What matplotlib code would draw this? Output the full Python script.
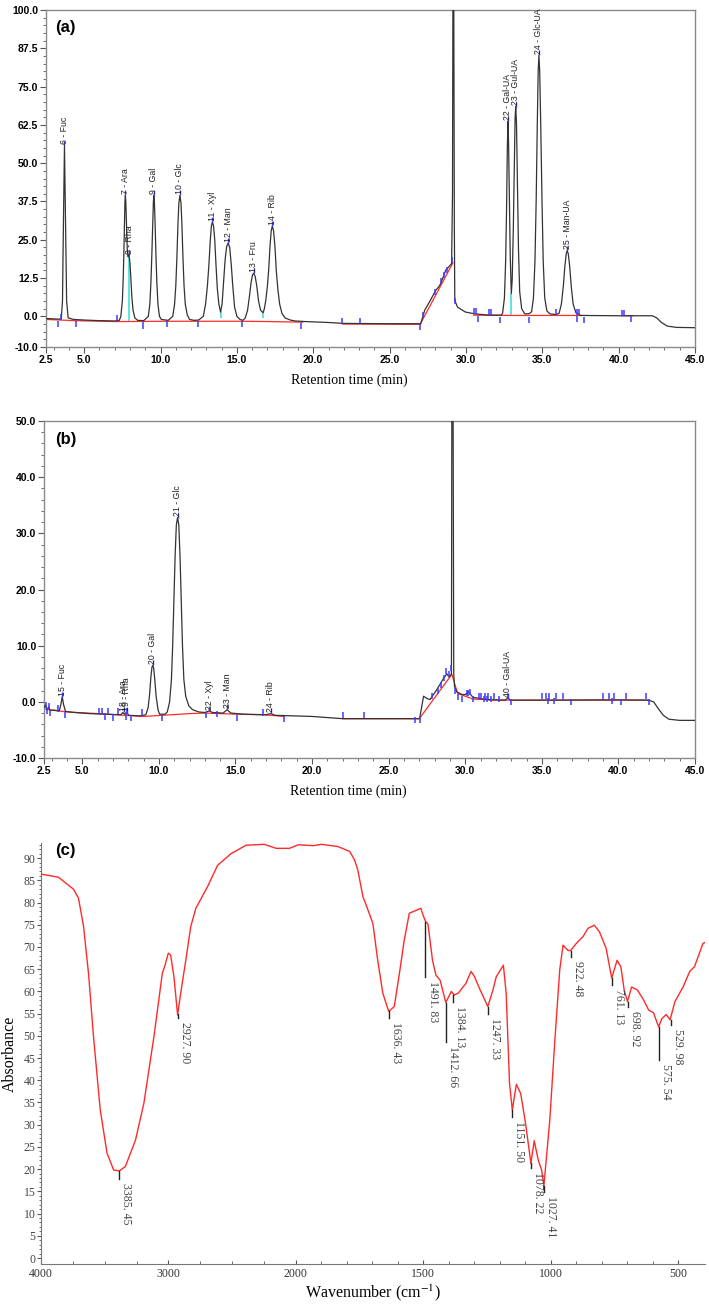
import numpy as np
import matplotlib
matplotlib.use("Agg")
import matplotlib.pyplot as plt
from matplotlib.ticker import FixedLocator, FormatStrFormatter

plt.rcParams['font.family'] = ['Liberation Sans', 'DejaVu Sans']
plt.rcParams['mathtext.fontset'] = 'stix'

# ---------------- data: panel (a), monosaccharide standards ----------------
a_time = [2.5, 3.3, 3.5, 3.58, 3.64, 3.71, 3.78, 3.85, 3.95, 4.3, 5.0, 6.0, 7.0, 7.3,
          7.4, 7.5, 7.56, 7.6, 7.64, 7.67, 7.7, 7.73, 7.77, 7.82, 7.87, 7.93, 7.99, 8.05,
          8.12, 8.2, 8.32, 8.5, 8.9,
          9.2, 9.3, 9.37, 9.43, 9.49, 9.53, 9.56, 9.6, 9.64, 9.7, 9.76, 9.83, 9.93, 10.05,
          10.5, 10.8, 10.92, 11.0, 11.07, 11.14, 11.2, 11.27, 11.34, 11.4, 11.47, 11.54,
          11.62, 11.75, 11.9, 12.2, 12.5,
          12.8, 12.95, 13.07, 13.17, 13.26, 13.33, 13.4, 13.47, 13.55, 13.63, 13.72, 13.82,
          13.93, 14.03, 14.13, 14.23, 14.33, 14.43, 14.53, 14.63, 14.73, 14.85, 15.0, 15.2,
          15.4, 15.55, 15.7, 15.82, 15.93, 16.02, 16.1, 16.2, 16.3, 16.42, 16.55, 16.72,
          16.8, 16.9, 17.0, 17.08, 17.17, 17.25, 17.32, 17.4, 17.49, 17.58, 17.68, 17.8,
          17.95, 18.15, 18.5, 18.8, 19.5, 21.0, 22.0, 25.0, 26.9,
          27.04, 27.3, 27.7, 28.02, 28.2, 28.35, 28.67, 29.06, 29.12, 29.15, 29.2, 29.24,
          29.27, 29.45, 29.97, 30.6, 31.5, 32.3,
          32.4, 32.52, 32.6, 32.66, 32.71, 32.75, 32.79, 32.84, 32.9, 32.97, 33.03, 33.1,
          33.17, 33.22, 33.26, 33.31, 33.37, 33.44, 33.52, 33.65, 33.85, 34.15,
          34.3, 34.42, 34.52, 34.6, 34.67, 34.73, 34.78, 34.83, 34.9, 34.98, 35.06, 35.16,
          35.3, 35.5, 35.9, 36.1, 36.25, 36.38, 36.48, 36.57, 36.63, 36.7, 36.8, 36.9,
          37.02, 37.2, 37.5, 40.0, 42.2, 42.5, 42.8, 43.2, 43.8, 45.0]
a_signal = [-0.7, -0.9, -0.8, 5, 30, 55.8, 30, 5, -0.5, -1.0, -1.2, -1.4, -1.5, -1.3,
            0, 5, 13, 21, 31, 37.5, 39.5, 37, 30, 22, 19.5, 20, 18, 13,
            6.5, 2, -0.5, -1.3, -1.4,
            0, 4, 11, 20, 31, 37, 39.5, 37, 31, 20, 11, 4, 0, -1.0,
            -1.3, 0, 4, 10, 19, 30, 37, 39.5, 37, 30, 19, 10,
            4, 0.5, -1.0, -1.3, -1.2,
            0, 4, 10, 17, 25, 29.5, 30.8, 29.5, 25, 17, 9, 4,
            1.4, 4, 11, 18.5, 22.8, 23.9, 22.5, 17, 10, 3, 0, -1.0,
            -1.3, -0.5, 2, 6.5, 11, 13.5, 14.1, 13, 10, 5, 2, 1.2,
            2.5, 5.5, 10, 15, 23, 28, 29.4, 28, 23, 15, 9, 4,
            1, -0.5, -1.2, -1.5, -1.7, -2.0, -2.3, -2.4, -2.4,
            -2.4, 2, 5.5, 8.5, 9.5, 10.7, 15, 17.2, 40, 110, 110, 30,
            5.2, 3, 1.4, 0.8, 0.4, 0.4,
            1, 6, 18, 35, 55, 63.7, 57, 40, 20, 7.4, 12, 28,
            50, 65, 68.5, 63, 44, 22, 8, 2.5, 0.8, 0.9,
            1.5, 6, 18, 38, 62, 80, 85.2, 80, 62, 38, 18, 6,
            1.8, 0.8, 0.6, 1, 4, 10, 16.5, 20.5, 21.5, 20.5, 16, 9.5,
            4, 1.2, 0.3, 0.2, 0.2, -0.5, -2.0, -3.2, -3.6, -3.7]
a_base_time = [2.5, 4.4, 7.1, 10.4, 15.4, 17.2, 19.3, None, 21.9, 27.0, 29.15, None,
               30.5, 33.0, 37.6, None, 40.2, 40.9]
a_base_val = [-1.0, -1.4, -1.7, -1.6, -1.6, -1.7, -1.9, None, -2.5, -2.6, 17.5, None,
              0.4, 0.3, 0.3, None, 0.2, 0.2]
a_peak_names = ['6 - Fuc', '7 - Ara', '8 - Rha', '9 - Gal', '10 - Glc', '11 - Xyl',
                '12 - Man', '13 - Fru', '14 - Rib', '22 - Gal-UA', '23 - Gul-UA',
                '24 - Glc-UA', '25 - Man-UA']
a_peak_time = [3.71, 7.7, 7.95, 9.56, 11.27, 13.4, 14.43, 16.1, 17.32, 32.75, 33.26,
               34.78, 36.63]
a_peak_height = [55.8, 39.5, 20.0, 39.5, 39.5, 30.8, 23.9, 14.1, 29.4, 63.7, 68.5,
                 85.2, 21.5]
a_marks_time = [3.3, 3.45, 4.47, 7.14, 8.88, 10.4, 12.43, 15.34, 19.17, 21.9, 23.05,
                27.0, 27.2, 27.97, 28.35, 28.55, 28.75, 29.1, 29.3, 30.52, 30.65, 30.8,
                31.5, 31.65, 32.21, 34.13, 35.9, 37.25, 37.4, 37.3, 37.7, 40.19, 40.35,
                40.84]
a_marks_val = [-2.5, -0.3, -2.5, -0.5, -3.0, -2.5, -2.5, -2.5, -3.2, -1.5, -1.5,
               -3.5, 0.5, 8.0, 11.5, 13.5, 15.0, 18.5, 5.0, 1.8, 1.8, -1.0,
               1.5, 1.5, -1.2, -1.2, 1.3, 1.3, 1.3, -0.8, -1.3, 1.2, 1.2, -1.0]
a_cyan_time = [7.93, 13.93, 16.72, 32.97]
a_cyan_low = [-1.6, -0.4, -0.4, 0.3]
a_cyan_high = [19.5, 1.6, 1.4, 7.4]

# ---------------- data: panel (b), polysaccharide sample ----------------
b_time = [2.5, 2.6, 2.7, 2.8, 2.9, 3.2, 3.5, 3.6, 3.69, 3.78, 3.9, 4.5, 5.5, 6.5, 7.5,
          7.65, 7.75, 7.88, 8.05, 8.8, 9.15, 9.3, 9.4, 9.48, 9.55, 9.6, 9.66, 9.73, 9.82,
          9.95, 10.05, 10.4, 10.55, 10.7, 10.82, 10.9, 10.98, 11.06, 11.14, 11.22, 11.3,
          11.38, 11.46, 11.54, 11.63, 11.75, 11.95, 12.2, 12.6, 13.0,
          13.3, 13.5, 14.2, 14.45, 14.7, 15.5, 17.0, 17.3, 17.6, 20.0, 22.0, 26.9, 27.02,
          27.15, 27.28, 27.5, 27.7, 28.15, 28.59, 28.8, 28.95, 29.1, 29.13, 29.2, 29.25,
          29.3, 29.45, 29.77, 30.0, 30.21, 30.5, 31.4, 32.6, 32.78, 32.95, 35.0, 40.0,
          41.95, 42.3, 42.6, 42.93, 43.3, 44.0, 45.0]
b_signal = [-1.0, -0.6, -1.4, -0.9, -1.5, -1.5, -1.6, -0.5, 0.9, -0.5, -1.7, -1.9, -2.1,
            -2.2, -2.3, -1.9, -2.2, -1.9, -2.4, -2.5, -2.3, -1.0, 1.5, 4.5, 6.2, 6.5,
            6.0, 4.0, 1.0, -1.5, -2.2, -2.2, -1.8, 0, 4, 10, 18, 26, 31.5, 32.8, 31.5,
            26, 18, 10, 4, 1, -0.7, -1.4, -1.8, -1.9,
            -1.6, -1.9, -2.0, -1.4, -2.0, -2.2, -2.3, -2.1, -2.4, -2.6, -3.0, -3.0, -3.0,
            -1.0, 1.0, 0.6, 0.4, 2.2, 4.2, 5.0, 4.4, 5.0, 60, 60, 5.0,
            2.7, 1.8, 1.3, 1.3, 1.8, 0.8, 0.4, 0.3, 0.7, 0.3, 0.3, 0.35,
            0.3, 0.0, -1.2, -2.4, -3.1, -3.3, -3.3]
b_base_time = [2.5, 4.0, 6.0, 9.0, 10.2, 12.0, 13.0, 15.1, 16.8, 18.2, None,
               22.0, 27.0, 29.13, 29.5, 30.5, 32.0, 42.0]
b_base_val = [-1.3, -1.8, -2.1, -2.6, -2.4, -2.1, -2.0, -2.2, -2.3, -2.6, None,
              -3.0, -3.0, 4.9, 1.5, 0.5, 0.3, 0.3]
b_peak_names = ['15 - Fuc', '18 - Ara', '19 - Rha', '20 - Gal', '21 - Glc', '22 - Xyl',
                '23 - Man', '24 - Rib', '40 - Gal-UA']
b_peak_time = [3.69, 7.7, 7.9, 9.6, 11.22, 13.3, 14.45, 17.3, 32.78]
b_peak_height = [0.9, -1.8, -1.9, 6.5, 32.8, -1.6, -1.3, -2.0, 0.7]
b_marks_time = [2.6, 2.7, 2.8, 2.9, 3.4, 3.9, 6.1, 6.3, 6.5, 6.7, 7.0, 7.35, 7.85, 7.95,
                8.15, 8.9, 10.2, 13.05, 13.8, 15.1, 16.8, 18.2, 22.0, 23.4, 26.7, 27.05,
                27.8, 28.2, 28.4, 28.6, 28.75, 28.95, 29.1, 29.35, 29.5, 29.8, 30.1, 30.2,
                30.3, 30.5, 30.9, 31.05, 31.2, 31.3, 31.4, 31.5, 31.7, 31.9, 32.2, 33.0,
                35.0, 35.3, 35.4, 35.5, 35.8, 35.9, 36.4, 36.9, 39.0, 39.4, 39.6, 39.7,
                40.2, 40.5, 41.8, 42.0]
b_marks_val = [-0.6, -1.7, -0.8, -2.0, -1.2, -2.4, -1.6, -1.6, -2.6, -1.6, -2.8, -1.7,
               -2.6, -1.7, -2.9, -1.9, -2.9, -2.3, -2.1, -2.9, -1.9, -3.0, -2.4, -2.3,
               -3.2, -3.2, 1.0, 2.0, 3.0, 4.2, 5.5, 5.0, 6.0, 2.0, 0.8, 0.5, 1.5, 1.5,
               1.8, 0.5, 1.0, 1.0, 0.5, 1.0, 0.5, 1.0, 0.5, 1.0, 0.5, 0.0,
               1.0, 1.0, 0.2, 1.0, 0.2, 1.0, 1.0, 0.0, 1.0, 1.0, 0.2, 1.0,
               0.0, 1.0, 1.0, 0.0]

# ---------------- data: panel (c), FT-IR spectrum ----------------
ir_wavenumber = [4000, 3863, 3745, 3706, 3666, 3627, 3588, 3535, 3482, 3430, 3385, 3338,
                 3259, 3193, 3114, 3048, 3030, 3001, 2983, 2957, 2928, 2904, 2864, 2825,
                 2785, 2693, 2614, 2509, 2391, 2247, 2155, 2050, 1991, 1932, 1900, 1835,
                 1789, 1770, 1757, 1737, 1724, 1698, 1679, 1659, 1636, 1614, 1594, 1575,
                 1555, 1530, 1510, 1500, 1491, 1482, 1464, 1451, 1434, 1412, 1390, 1379,
                 1363, 1333, 1313, 1300, 1280, 1247, 1227, 1214, 1186, 1175, 1162, 1151,
                 1135, 1118, 1099, 1078, 1065, 1049, 1036, 1027, 1004, 984, 965, 952, 932,
                 922, 900, 874, 854, 829, 809, 783, 761, 740, 725, 712, 699, 683, 660, 635,
                 616, 597, 577, 564, 547, 532, 513, 481, 455, 436, 403, 395]
ir_absorbance = [86.4, 85.7, 83.0, 81.0, 74.6, 64.0, 49.8, 33.3, 23.6, 19.8, 19.6, 20.6,
                 26.5, 34.8, 49.8, 64.1, 65.6, 68.6, 68.2, 63.3, 54.7, 59.6, 67.0, 74.6,
                 78.7, 83.6, 88.4, 91.0, 92.9, 93.1, 92.2, 92.2, 93.0, 92.8, 93.1, 92.6,
                 91.5, 89.6, 87.3, 81.3, 79.4, 75.3, 67.0, 59.6, 55.5, 56.6, 64.0, 71.5,
                 77.6, 78.2, 78.7, 77.0, 75.7, 75.2, 67.0, 63.7, 62.5, 57.5, 60.0, 59.2,
                 59.6, 61.8, 64.5, 63.4, 60.7, 56.6, 60.3, 63.3, 65.9, 59.6, 39.4, 33.3,
                 39.1, 37.0, 30.3, 21.3, 26.4, 22.0, 19.8, 16.3, 31.0, 49.0, 64.8, 70.4,
                 69.2, 69.2, 70.8, 72.3, 74.2, 74.9, 73.4, 69.7, 63.0, 67.0, 65.5, 60.3,
                 57.7, 61.0, 60.3, 58.0, 55.8, 55.2, 52.0, 53.9, 54.8, 53.6, 57.7, 61.0,
                 64.5, 65.6, 70.8, 71.0]
ir_peaks = [3385.45, 2927.90, 1636.43, 1491.83, 1412.66, 1384.13, 1247.33, 1151.50,
            1078.22, 1027.41, 922.48, 761.13, 698.92, 575.54, 529.98]
ir_peak_abs = [19.6, 55.0, 55.5, 75.7, 57.5, 59.2, 56.6, 33.3, 21.3, 16.3, 69.2, 63.0,
               57.7, 52.0, 53.6]

# ---------------- drawing ----------------
fig = plt.figure(figsize=(7.09, 13.06), dpi=100)

TRACE = '#333333'
RED = '#ff2a2a'
BLUE = '#3c3cff'
CYAN = '#30dede'
FRAME = '#8a8a8a'


def to_arr(vals):
    return np.array([np.nan if v is None else v for v in vals], dtype=float)


def chromatogram(ax, t, s, bt, bv, names, pt, ph, mt, mv, ylim, yticks, yminor, mark_h):
    ax.plot(to_arr(bt), to_arr(bv), color=RED, lw=0.9, zorder=2)
    ax.plot(t, s, color=TRACE, lw=0.9, zorder=3)
    ax.vlines(mt, np.array(mv) - mark_h, np.array(mv) + mark_h, color=BLUE, lw=1.1, zorder=4)
    ax.vlines(pt, np.array(ph), np.array(ph) + mark_h * 1.6, color=BLUE, lw=1.0, zorder=4)
    for name, x, y in zip(names, pt, ph):
        ax.text(x, y + mark_h * 0.4, name, rotation=90, ha='center', va='bottom',
                fontsize=6.3, color='#222222', zorder=5)
    ax.set_xlim(2.5, 45)
    ax.set_ylim(*ylim)
    ax.xaxis.set_major_locator(FixedLocator([2.5, 5, 10, 15, 20, 25, 30, 35, 40, 45]))
    ax.xaxis.set_minor_locator(FixedLocator(np.arange(3, 45, 1.0)))
    ax.yaxis.set_major_locator(FixedLocator(yticks))
    ax.yaxis.set_minor_locator(FixedLocator(yminor))
    ax.xaxis.set_major_formatter(FormatStrFormatter('%.1f'))
    ax.yaxis.set_major_formatter(FormatStrFormatter('%.1f'))
    ax.tick_params(which='major', direction='out', length=4, width=0.8, color='#555555',
                   labelsize=7.5, pad=1.5)
    ax.tick_params(which='minor', direction='out', length=2, width=0.6, color='#555555')
    for lab in ax.get_xticklabels() + ax.get_yticklabels():
        lab.set_fontweight('bold')
    for sp in ax.spines.values():
        sp.set_color(FRAME)
        sp.set_linewidth(1.0)
    ax.text(0.468, -0.1, 'Retention time (min)', transform=ax.transAxes, ha='center',
            va='center', fontsize=10, family=['Liberation Serif', 'DejaVu Serif'])


# panel (a)
ax_a = fig.add_axes([46 / 709, 1 - 347 / 1306, 649 / 709, 337 / 1306])
chromatogram(ax_a, a_time, a_signal, a_base_time, a_base_val, a_peak_names, a_peak_time,
             a_peak_height, a_marks_time, a_marks_val, (-10, 100),
             [-10, 0, 12.5, 25, 37.5, 50, 62.5, 75, 87.5, 100],
             np.arange(-10, 100.1, 2.5), 1.0)
ax_a.vlines(a_cyan_time, a_cyan_low, a_cyan_high, color=CYAN, lw=1.1, zorder=2.5)
ax_a.text(0.014, 0.97, '(a)', transform=ax_a.transAxes, ha='left', va='top',
          fontsize=12, fontweight='bold')

# panel (b)
ax_b = fig.add_axes([44 / 709, 1 - 758 / 1306, 651 / 709, 337 / 1306])
chromatogram(ax_b, b_time, b_signal, b_base_time, b_base_val, b_peak_names, b_peak_time,
             b_peak_height, b_marks_time, b_marks_val, (-10, 50),
             [-10, 0, 10, 20, 30, 40, 50], np.arange(-10, 50.1, 2.0), 0.55)
ax_b.text(0.017, 0.967, '(b)', transform=ax_b.transAxes, ha='left', va='top',
          fontsize=12, fontweight='bold')

# panel (c) with the usual 2x expanded scale below 2000 cm-1
ax_c = fig.add_axes([41 / 709, 1 - 1264 / 1306, 664 / 709, 421 / 1306])


def fwd(w):
    w = np.asarray(w, dtype=float)
    return np.where(w >= 2000, w, 2 * w - 2000)


def inv(u):
    u = np.asarray(u, dtype=float)
    return np.where(u >= 2000, u, (u + 2000) / 2)


ax_c.set_xscale('function', functions=(fwd, inv))
ax_c.plot(ir_wavenumber, ir_absorbance, color=RED, lw=1.0, zorder=3)
ax_c.set_xlim(4000, 395)
ax_c.set_ylim(-1.35, 93.4)

serif = ['Liberation Serif', 'DejaVu Serif']
leader_end = [17.8, 54.0, 54.0, 63.3, 48.7, 57.6, 55.0, 31.8, 20.2, 14.9, 67.7, 61.5,
              56.6, 44.6, 52.5]
for w, a, e in zip(ir_peaks, ir_peak_abs, leader_end):
    ax_c.plot([w, w], [a, e], color='#222222', lw=1.0, zorder=4)
    ax_c.annotate(('%.2f' % w).replace('.', '. '), xy=(w, e), xytext=(0.8, -3),
                  textcoords='offset points', rotation=270, ha='left', va='top',
                  fontsize=8.5, color='#444444', family=serif)

ax_c.xaxis.set_major_locator(FixedLocator([4000, 3000, 2000, 1500, 1000, 500]))
ax_c.xaxis.set_minor_locator(FixedLocator([3750, 3500, 3250, 2750, 2500, 2250] +
                                          list(range(1900, 400, -100))))
ax_c.yaxis.set_major_locator(FixedLocator(np.arange(0, 91, 5)))
ax_c.yaxis.set_minor_locator(FixedLocator(np.arange(0, 94, 1)))
ax_c.tick_params(axis='x', which='major', direction='in', length=3, color='#555555',
                 labelsize=8.5, labelcolor='#333333', pad=3)
ax_c.tick_params(axis='x', which='minor', direction='in', length=2, color='#555555')
ax_c.tick_params(axis='y', which='major', direction='out', length=3, color='#555555',
                 labelsize=8.5, labelcolor='#444444', pad=1)
ax_c.tick_params(axis='y', which='minor', direction='out', length=1.5, color='#555555')
for lab in ax_c.get_xticklabels() + ax_c.get_yticklabels():
    lab.set_family(serif)
ax_c.spines['top'].set_visible(False)
ax_c.spines['right'].set_visible(False)
ax_c.spines['left'].set_color('#777777')
ax_c.spines['bottom'].set_color('#777777')
ax_c.set_ylabel('Absorbance', fontsize=11.5, family=serif, labelpad=4)
ax_c.set_xlabel('Wavenumber (cm$^{-1}$)', fontsize=11.5, family=serif, labelpad=2)
ax_c.text(0.021, 1.0, '(c)', transform=ax_c.transAxes, ha='left', va='top',
          fontsize=12, fontweight='bold')

fig.savefig('out.png', dpi=100)
